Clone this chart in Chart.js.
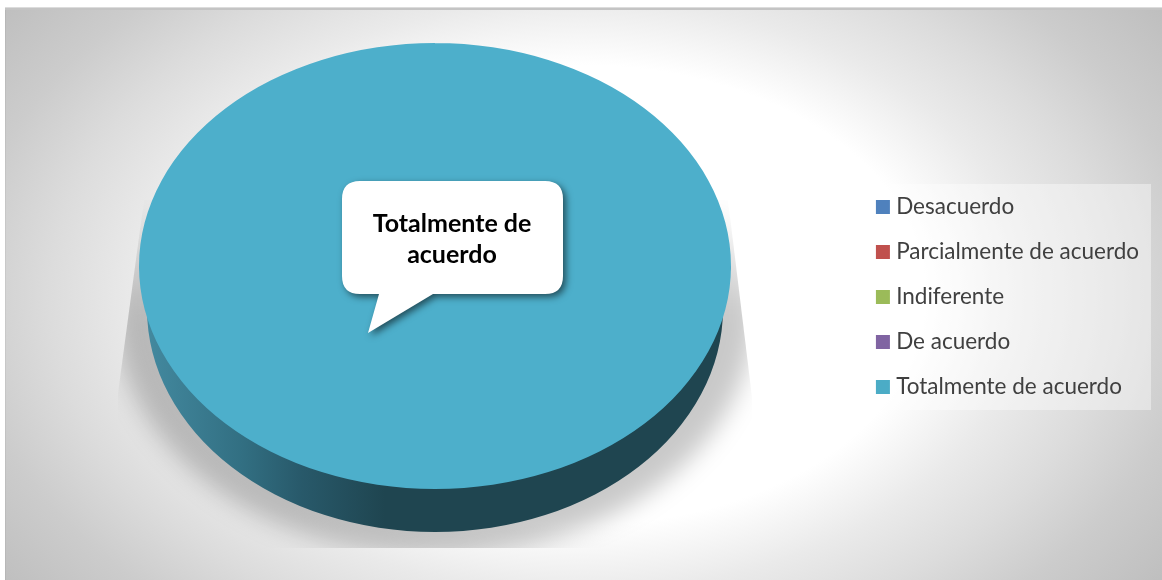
<!DOCTYPE html>
<html lang="es">
<head>
<meta charset="utf-8">
<title>Totalmente de acuerdo</title>
<script src="https://cdn.jsdelivr.net/npm/chart.js@4"></script>
<style>
  html, body { margin: 0; padding: 0; background: #fff; }
  canvas { display: block; }
</style>
</head>
<body>
<canvas id="chart" width="1162" height="580"></canvas>
<script>
const categories = ['Desacuerdo', 'Parcialmente de acuerdo', 'Indiferente', 'De acuerdo', 'Totalmente de acuerdo'];
const shares = [0, 0, 0, 0, 100];
const sliceColors = ['#4F81BD', '#C0504D', '#9BBB59', '#8064A2', '#4DAFCB'];
const swatchColors = ['#4F81BD', '#C0504D', '#9BBB59', '#8064A2', '#4BACC6'];
const calloutLines = ['Totalmente de', 'acuerdo'];

// Flattened disc: where the circular pie ends up on the canvas.
const disc = { x: 435, y: 266, rx: 296, ry: 223, baseY: 309, baseRx: 288 };
const legendPanel = { x: 864, y: 184, w: 287, h: 226 };

const backdrop = {
  id: 'backdrop',
  beforeDraw(chart) {
    const { ctx } = chart;
    ctx.save();

    // Elliptical white-to-grey wash behind everything
    ctx.save();
    ctx.beginPath();
    ctx.rect(5, 9, 1157, 571);
    ctx.clip();
    ctx.translate(581, 295);
    ctx.scale(1, 1 / 1.5);
    const g = ctx.createRadialGradient(0, 0, 0, 0, 0, 718);
    g.addColorStop(0, '#ffffff');
    g.addColorStop(0.48, '#ffffff');
    g.addColorStop(0.62, '#eaeaea');
    g.addColorStop(0.74, '#dcdcdc');
    g.addColorStop(0.86, '#cccccc');
    g.addColorStop(1, '#bfbfbf');
    ctx.fillStyle = g;
    ctx.fillRect(-600, -500, 1200, 1000);
    ctx.restore();

    // Frame edges
    ctx.fillStyle = '#dcdcdc';
    ctx.fillRect(5, 7, 1157, 1);
    ctx.fillStyle = '#c4c4c4';
    ctx.fillRect(5, 8, 1157, 2);
    ctx.fillStyle = 'rgba(0,0,0,0.05)';
    ctx.fillRect(5, 10, 1, 570);

    // Soft cast shadow under the disc, cut off by a trapezoid
    ctx.save();
    ctx.beginPath();
    ctx.moveTo(144, 200);
    ctx.lineTo(728, 200);
    ctx.lineTo(752, 397);
    ctx.lineTo(752, 548);
    ctx.lineTo(118, 548);
    ctx.lineTo(118, 393);
    ctx.closePath();
    ctx.clip();
    ctx.filter = 'blur(12px)';
    const fade = ctx.createLinearGradient(0, 200, 0, 310);
    fade.addColorStop(0, 'rgba(0,0,0,0)');
    fade.addColorStop(1, 'rgba(0,0,0,0.21)');
    ctx.fillStyle = fade;
    ctx.beginPath();
    ctx.ellipse(disc.x, 310, 320, 245, 0, 0, Math.PI * 2);
    ctx.fill();
    ctx.restore();

    ctx.fillStyle = 'rgba(255,255,255,0.4)';
    ctx.fillRect(legendPanel.x, legendPanel.y, legendPanel.w, legendPanel.h);
    ctx.restore();
  }
};

const flattenedPie = {
  id: 'flattenedPie',
  beforeDatasetsDraw(chart) {
    const { ctx } = chart;
    const arc = chart.getDatasetMeta(0).data[4];
    ctx.save();

    // Side wall of the disc
    const wall = ctx.createLinearGradient(disc.x - disc.baseRx, 0, 385, 0);
    wall.addColorStop(0, '#43899F');
    wall.addColorStop(0.4, '#326F82');
    wall.addColorStop(0.65, '#28596A');
    wall.addColorStop(1, '#1F4550');
    ctx.fillStyle = wall;
    ctx.beginPath();
    ctx.moveTo(disc.x - disc.rx, disc.y);
    ctx.lineTo(disc.x - disc.baseRx, disc.baseY);
    ctx.ellipse(disc.x, disc.baseY, disc.baseRx, disc.ry, 0, Math.PI, 0, true);
    ctx.lineTo(disc.x + disc.rx, disc.y);
    ctx.closePath();
    ctx.fill();

    // The library draws the top face through this transform
    ctx.translate(disc.x, disc.y);
    ctx.scale(disc.rx / arc.outerRadius, disc.ry / arc.outerRadius);
    ctx.translate(-arc.x, -arc.y);
  },
  afterDatasetsDraw(chart) {
    const { ctx } = chart;
    ctx.restore();

    // Speech-bubble label
    ctx.save();
    ctx.shadowColor = 'rgba(0,0,0,0.55)';
    ctx.shadowBlur = 7;
    ctx.shadowOffsetX = 3;
    ctx.shadowOffsetY = 3;
    ctx.fillStyle = '#ffffff';
    const l = 342, t = 181, r = 563, b = 294, c = 18;
    ctx.beginPath();
    ctx.moveTo(l + c, t);
    ctx.lineTo(r - c, t);
    ctx.quadraticCurveTo(r, t, r, t + c);
    ctx.lineTo(r, b - c);
    ctx.quadraticCurveTo(r, b, r - c, b);
    ctx.lineTo(433, b);
    ctx.lineTo(368, 333);
    ctx.lineTo(379, b);
    ctx.lineTo(l + c, b);
    ctx.quadraticCurveTo(l, b, l, b - c);
    ctx.lineTo(l, t + c);
    ctx.quadraticCurveTo(l, t, l + c, t);
    ctx.closePath();
    ctx.fill();
    ctx.restore();

    ctx.save();
    ctx.fillStyle = '#000000';
    ctx.font = 'bold 25px Lato, sans-serif';
    ctx.textAlign = 'center';
    ctx.textBaseline = 'alphabetic';
    calloutLines.forEach((line, i) => ctx.fillText(line, 452, 232 + i * 31));
    ctx.restore();
  }
};

new Chart(document.getElementById('chart'), {
  type: 'pie',
  data: {
    labels: categories,
    datasets: [{ data: shares, backgroundColor: sliceColors, borderWidth: 0 }]
  },
  plugins: [backdrop, flattenedPie],
  options: {
    responsive: false,
    animation: false,
    layout: { padding: { left: 6, top: 14, right: 13, bottom: 0 } },
    plugins: {
      tooltip: { enabled: false },
      title: { display: false },
      legend: {
        display: true,
        position: 'right',
        align: 'center',
        labels: {
          color: '#404040',
          font: { family: 'Lato, sans-serif', size: 22.5 },
          boxWidth: 4,
          boxHeight: 4,
          padding: 22.5,
          generateLabels(chart) {
            const items = Chart.overrides.pie.plugins.legend.labels.generateLabels(chart);
            items.forEach((it, i) => {
              it.fillStyle = swatchColors[i];
              it.strokeStyle = swatchColors[i];
              it.lineWidth = 10;
              it.hidden = false;
            });
            return items;
          }
        }
      }
    }
  }
});
</script>
</body>
</html>
